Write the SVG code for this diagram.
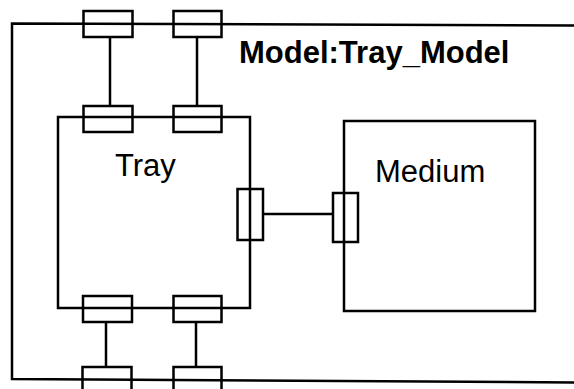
<svg xmlns="http://www.w3.org/2000/svg" width="574" height="389" viewBox="0 0 574 389">
<style>
.ln{fill:none;stroke:#000;stroke-width:2.5;stroke-linejoin:miter}
.port{fill:none;stroke:#000;stroke-width:2.5}
.t{font-family:"Liberation Sans",Arial,sans-serif;font-size:31px;fill:#000}
.b{font-weight:bold}
</style>
<rect width="574" height="389" fill="#fff"/>
<g id="model">
<path class="ln" d="M576 25.5 L12 23.5 L12 379 L576 382.5"/>
<text class="t b" x="239" y="63">Model:Tray_Model</text>
</g>
<g id="tray">
<rect class="ln" x="58" y="117" width="192" height="191"/>
<text class="t" x="115" y="176">Tray</text>
</g>
<g id="medium">
<rect class="ln" x="344" y="121" width="191" height="190"/>
<text class="t" x="375" y="182">Medium</text>
</g>
<g id="model-port-top1"><rect class="port" x="83.5" y="11" width="49" height="26"/></g>
<g id="model-port-top2"><rect class="port" x="173.5" y="11" width="48" height="26"/></g>
<g id="tray-port-top1"><rect class="port" x="83.5" y="106" width="49" height="26"/></g>
<g id="tray-port-top2"><rect class="port" x="173.5" y="106" width="48" height="26"/></g>
<g id="tray-port-bot1"><rect class="port" x="83" y="296" width="49" height="26"/></g>
<g id="tray-port-bot2"><rect class="port" x="173.5" y="296" width="48" height="26"/></g>
<g id="model-port-bot1"><rect class="port" x="82.5" y="367" width="49" height="30"/></g>
<g id="model-port-bot2"><rect class="port" x="173.5" y="367" width="48" height="30"/></g>
<g id="tray-port-right"><rect class="port" x="237.5" y="189" width="25.5" height="51"/></g>
<g id="medium-port-left"><rect class="port" x="333" y="193" width="25" height="49"/></g>
<g id="connectors">
<line class="ln" x1="110" y1="37" x2="110" y2="106"/>
<line class="ln" x1="197" y1="37" x2="197" y2="106"/>
<line class="ln" x1="106" y1="322" x2="106" y2="367"/>
<line class="ln" x1="196" y1="322" x2="196" y2="367"/>
<line class="ln" x1="263" y1="214" x2="333" y2="214"/>
</g>
</svg>
